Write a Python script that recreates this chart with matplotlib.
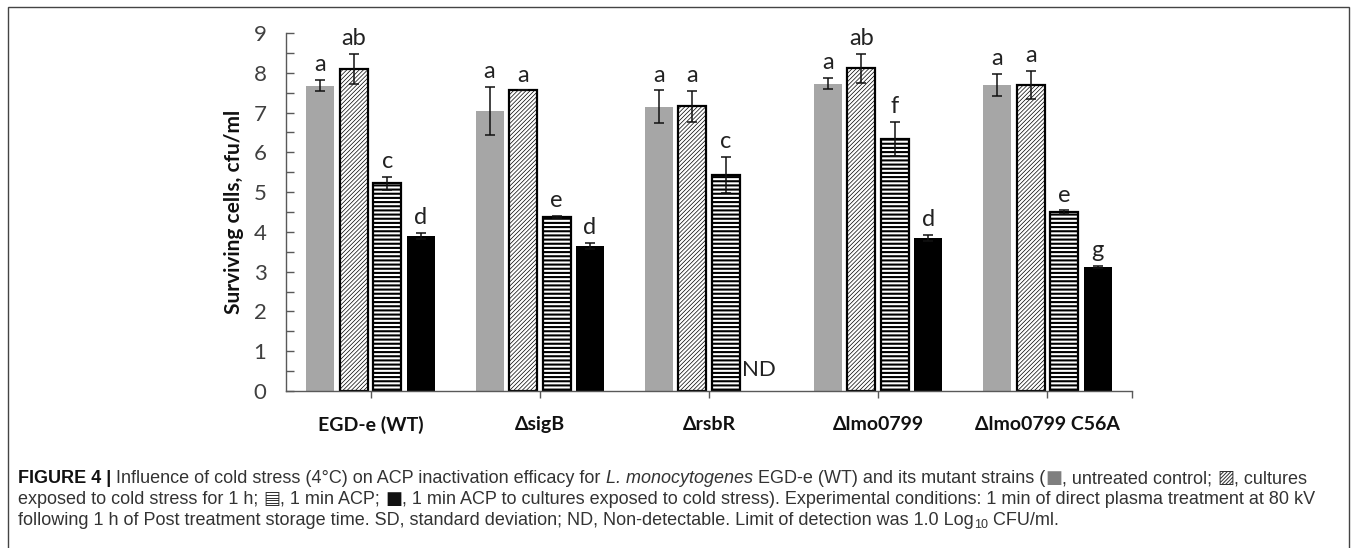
import numpy as np
import matplotlib
matplotlib.use('Agg')
import matplotlib.pyplot as plt
from matplotlib.patches import Rectangle

# strains
strains = ['EGD-e (WT)', 'ΔsigB', 'ΔrsbR', 'Δlmo0799', 'Δlmo0799 C56A']

# log10 cfu/ml
control = [7.68, 7.04, 7.15, 7.73, 7.69]
control_sd = [0.15, 0.60, 0.41, 0.15, 0.28]
cold = [8.09, 7.56, 7.16, 8.11, 7.69]
cold_sd = [0.38, 0.0, 0.39, 0.36, 0.36]
acp = [5.22, 4.38, 5.43, 6.33, 4.49]
acp_sd = [0.16, 0.03, 0.46, 0.43, 0.05]
acp_cold = [3.90, 3.64, 0.0, 3.85, 3.12]   # rsbR: ND
acp_cold_sd = [0.08, 0.08, 0.0, 0.08, 0.02]

control_letters = ['a', 'a', 'a', 'a', 'a']
cold_letters = ['ab', 'a', 'a', 'ab', 'a']
acp_letters = ['c', 'e', 'c', 'f', 'e']
acp_cold_letters = ['d', 'd', 'ND', 'd', 'g']

W, H = 1357, 548
fig = plt.figure(figsize=(W / 100, H / 100), dpi=100)

# frame round the whole figure
fig.patches.append(Rectangle((8 / W, -0.05), 1341 / W, 1.05 - 7 / H, transform=fig.transFigure,
                             fill=False, edgecolor='#444444', lw=1.0))

ax = fig.add_axes([286 / W, 1 - 391 / H, 846 / W, 358 / H])
x = np.arange(len(strains))
offs = [-0.297, -0.099, 0.099, 0.297]
bw = 0.165

series = [
    (control, control_sd, control_letters, dict(color='#a6a6a6', lw=0)),
    (cold, cold_sd, cold_letters, dict(facecolor='white', edgecolor='black', lw=1.6, hatch='////////')),
    (acp, acp_sd, acp_letters, dict(facecolor='white', edgecolor='black', lw=1.6, hatch='----')),
    (acp_cold, acp_cold_sd, acp_cold_letters, dict(color='black', lw=0)),
]
hatch_lw = [0.6, 0.5, 1.5, 0.6]

for i, (vals, sds, lets, style) in enumerate(series):
    xs = x + offs[i]
    plt.rcParams['hatch.linewidth'] = hatch_lw[i]
    bars = ax.bar(xs, vals, bw, zorder=2, **style)
    for b in bars:
        if hasattr(b, 'set_hatch_linewidth'):
            b.set_hatch_linewidth(hatch_lw[i])
    v = np.array(vals)
    s = np.array(sds)
    ok = v > 0
    ax.errorbar(xs[ok], v[ok], yerr=s[ok], fmt='none', ecolor='#111111',
                elinewidth=1.1, capsize=3.5, capthick=1.1, zorder=3)
    for xi, vi, si, lt in zip(xs, vals, sds, lets):
        if vi > 0:
            ax.text(xi, vi + si + 0.22, lt, ha='center', va='baseline',
                    fontsize=17, family='Lato', color='#222222')
        else:
            ax.text(xi, 0.38, lt, ha='center', va='baseline',
                    fontsize=16, family='Lato', color='#222222')

ax.set_xlim(-0.5, 4.5)
ax.set_ylim(0, 9)
for s in ['top', 'right']:
    ax.spines[s].set_visible(False)
for s in ['left', 'bottom']:
    ax.spines[s].set_color('#595959')
    ax.spines[s].set_linewidth(1.0)

ax.set_yticks(range(10))
ax.set_yticks(np.arange(0.5, 9, 1.0), minor=True)
ax.tick_params(axis='y', which='both', direction='in', length=6, width=1,
               color='#595959', labelsize=16, labelcolor='#404040', pad=14)
for t in ax.get_yticklabels():
    t.set_family('Lato')

ax.set_xticks(x)
ax.set_xticks([4.5], minor=True)
ax.set_xticklabels(strains, fontsize=14, fontweight='bold', family='Lato', color='#111111')
ax.tick_params(axis='x', which='both', direction='out', length=5, width=1,
               color='#595959', pad=13)

ax.set_ylabel('Surviving cells, cfu/ml', fontsize=15, fontweight='bold',
              family='Lato', color='#111111', labelpad=7)

# caption, written piece by piece
fig.canvas.draw()
rend = fig.canvas.get_renderer()
fam = ['Liberation Sans', 'DejaVu Sans']
cap = '#333333'


def put_line(y_px, pieces, x_px=18):
    xx = x_px
    for txt, kw in pieces:
        opts = dict(fontsize=13, family=fam, color=cap)
        opts.update(kw)
        dy = opts.pop('dy', 0)
        t = fig.text(xx / W, 1 - (y_px + dy) / H, txt, ha='left', va='baseline', **opts)
        xx += t.get_window_extent(rend).width


put_line(483, [
    ('FIGURE 4 | ', dict(fontweight='bold', color='#111111')),
    ('Influence of cold stress (4°C) on ACP inactivation efficacy for ', {}),
    ('L. monocytogenes', dict(style='italic')),
    (' EGD-e (WT) and its mutant strains (', {}),
    ('■', dict(color='#7f7f7f', family='DejaVu Sans')),
    (', untreated control; ', {}),
    ('▨', dict(family='DejaVu Sans')),
    (', cultures', {}),
])
put_line(504, [
    ('exposed to cold stress for 1 h; ', {}),
    ('▤', dict(family='DejaVu Sans')),
    (', 1 min ACP; ', {}),
    ('■', dict(color='#111111', family='DejaVu Sans')),
    (', 1 min ACP to cultures exposed to cold stress). Experimental conditions: '
     '1 min of direct plasma treatment at 80 kV', {}),
])
put_line(525, [
    ('following 1 h of Post treatment storage time. SD, standard deviation; '
     'ND, Non-detectable. Limit of detection was 1.0 Log', {}),
    ('10', dict(fontsize=9, dy=3)),
    (' CFU/ml.', {}),
])

fig.savefig('out.png', dpi=100)
